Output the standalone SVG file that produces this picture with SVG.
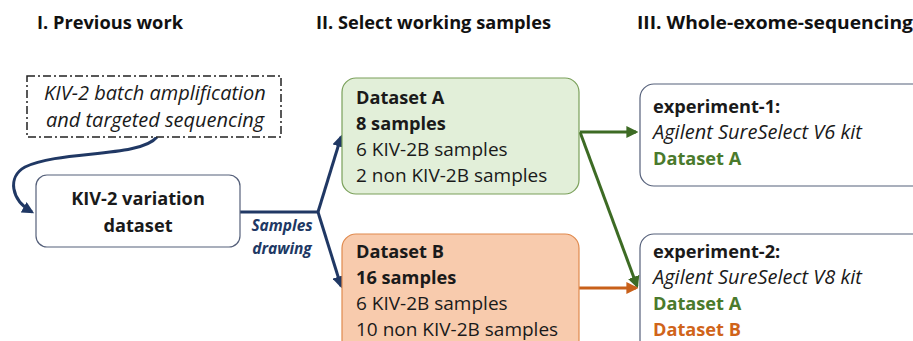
<svg xmlns="http://www.w3.org/2000/svg" width="913" height="341" viewBox="0 0 913 341">
  <defs>
    <style>
      .hdr { font-family: "Open Sans", "Noto Sans", sans-serif; font-weight: 700; font-size: 18.5px; fill: #111; }
      .t { font-family: "Open Sans", "Noto Sans", sans-serif; font-size: 19px; fill: #1a1a1a; }
      .b { font-weight: 700; font-size: 18.2px; }
      .i { font-style: italic; font-size: 20px; }
      .lbl { font-family: "Open Sans", "Noto Sans", sans-serif; font-weight: 700; font-style: italic; font-size: 15.5px; fill: #203864; }
      .green { fill: #4a7a2c; }
      .orange { fill: #d0641a; }
      .box { fill: #ffffff; stroke: #55607a; stroke-width: 1.2; }
      .lnBlue { fill: none; stroke: #203864; stroke-width: 3; }
      .lnGreen { fill: none; stroke: #3d6b24; stroke-width: 3; }
      .lnOrange { fill: none; stroke: #c8601a; stroke-width: 3; }
    </style>
    <marker id="ahBlue" viewBox="0 0 10 10" refX="8" refY="5" markerWidth="4" markerHeight="4" orient="auto" markerUnits="strokeWidth">
      <path d="M0,0 L10,5 L0,10 z" fill="#203864"/>
    </marker>
    <marker id="ahGreen" viewBox="0 0 10 10" refX="8" refY="5" markerWidth="4" markerHeight="4" orient="auto" markerUnits="strokeWidth">
      <path d="M0,0 L10,5 L0,10 z" fill="#3d6b24"/>
    </marker>
    <marker id="ahOrange" viewBox="0 0 10 10" refX="8" refY="5" markerWidth="4" markerHeight="4" orient="auto" markerUnits="strokeWidth">
      <path d="M0,0 L10,5 L0,10 z" fill="#c8601a"/>
    </marker>
  </defs>

  <rect width="913" height="341" fill="#ffffff"/>

  <!-- stage headers -->
  <g id="headers">
    <text class="hdr" x="37" y="29" textLength="146" lengthAdjust="spacingAndGlyphs">I. Previous work</text>
    <text class="hdr" x="316" y="29" textLength="235" lengthAdjust="spacingAndGlyphs">II. Select working samples</text>
    <text class="hdr" x="637" y="29" textLength="276" lengthAdjust="spacingAndGlyphs">III. Whole-exome-sequencing</text>
  </g>

  <!-- connectors -->
  <g id="connectors">
    <path class="lnBlue" d="M157,137 C140,158 60,150 25,167 C7,177 11,200 32,212" marker-end="url(#ahBlue)"/>
    <path class="lnBlue" d="M240,212 L318,212"/>
    <path class="lnBlue" d="M318,212 L341,137" marker-end="url(#ahBlue)"/>
    <path class="lnBlue" d="M318,212 L341,286" marker-end="url(#ahBlue)"/>
    <path class="lnGreen" d="M580,132 L636,132" marker-end="url(#ahGreen)"/>
    <path class="lnGreen" d="M580,132 L637,286" marker-end="url(#ahGreen)"/>
    <path class="lnOrange" d="M579,288 L636,288" marker-end="url(#ahOrange)"/>
    <text class="lbl" x="282" y="231" text-anchor="middle">Samples</text>
    <text class="lbl" x="282" y="254" text-anchor="middle">drawing</text>
  </g>

  <!-- previous work -->
  <g id="batch-seq">
    <rect x="27" y="76" width="254" height="61" fill="#ffffff" stroke="#222" stroke-width="1.5" stroke-dasharray="8,3,2,3"/>
    <text class="t i" x="155" y="100" text-anchor="middle">KIV-2 batch amplification</text>
    <text class="t i" x="155" y="127" text-anchor="middle">and targeted sequencing</text>
  </g>

  <g id="kiv2-dataset">
    <rect class="box" x="36" y="175" width="204" height="72" rx="11"/>
    <text class="t b" x="138" y="205" text-anchor="middle">KIV-2 variation</text>
    <text class="t b" x="138" y="232" text-anchor="middle">dataset</text>
  </g>

  <!-- working samples -->
  <g id="dataset-a">
    <rect x="342" y="78" width="237" height="116" rx="14" fill="#e2efd9" stroke="#7aa05a" stroke-width="1.2"/>
    <text class="t b" x="356" y="104">Dataset A</text>
    <text class="t b" x="356" y="130">8 samples</text>
    <text class="t" x="356" y="156">6 KIV-2B samples</text>
    <text class="t" x="356" y="182">2 non KIV-2B samples</text>
  </g>

  <g id="dataset-b">
    <rect x="342" y="234" width="237" height="120" rx="14" fill="#f8cbad" stroke="#e08a4e" stroke-width="1.2"/>
    <text class="t b" x="356" y="258">Dataset B</text>
    <text class="t b" x="356" y="284">16 samples</text>
    <text class="t" x="356" y="310">6 KIV-2B samples</text>
    <text class="t" x="356" y="336">10 non KIV-2B samples</text>
  </g>

  <!-- sequencing experiments -->
  <g id="experiment-1">
    <rect class="box" x="640" y="84" width="290" height="102" rx="14"/>
    <text class="t b" x="653" y="113">experiment-1:</text>
    <text class="t i" x="653" y="139">Agilent SureSelect V6 kit</text>
    <text class="t b green" x="653" y="165">Dataset A</text>
  </g>

  <g id="experiment-2">
    <rect class="box" x="640" y="234" width="290" height="120" rx="14"/>
    <text class="t b" x="653" y="258">experiment-2:</text>
    <text class="t i" x="653" y="284">Agilent SureSelect V8 kit</text>
    <text class="t b green" x="653" y="310">Dataset A</text>
    <text class="t b orange" x="653" y="336">Dataset B</text>
  </g>
</svg>
